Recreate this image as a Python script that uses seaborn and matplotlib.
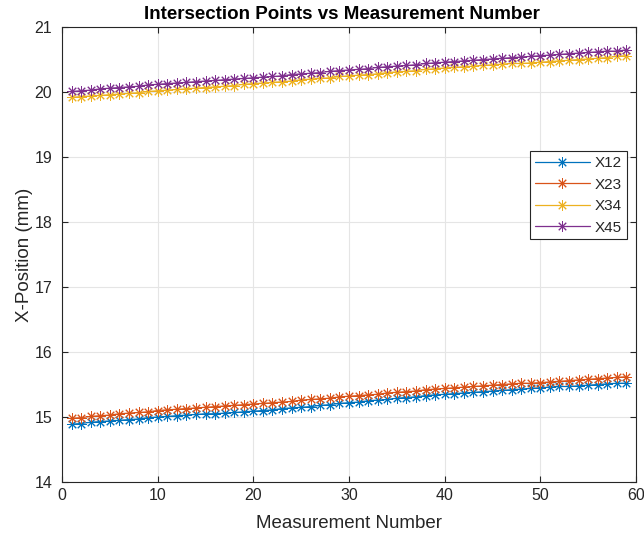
import matplotlib
matplotlib.use("Agg")
import matplotlib.pyplot as plt
import seaborn as sns
import pandas as pd

measurement = list(range(1, 60))

x12 = [14.89, 14.90, 14.92, 14.93, 14.94, 14.95, 14.96, 14.97, 14.99, 15.00,
       15.01, 15.02, 15.03, 15.04, 15.05, 15.05, 15.06, 15.07, 15.08, 15.09,
       15.10, 15.11, 15.13, 15.14, 15.15, 15.16, 15.18, 15.19, 15.21, 15.22,
       15.23, 15.25, 15.26, 15.27, 15.29, 15.30, 15.31, 15.33, 15.34, 15.35,
       15.36, 15.37, 15.38, 15.39, 15.40, 15.41, 15.42, 15.43, 15.44, 15.45,
       15.46, 15.47, 15.47, 15.48, 15.49, 15.50, 15.51, 15.52, 15.52]
x23 = [14.98, 14.99, 15.01, 15.02, 15.03, 15.05, 15.06, 15.07, 15.08, 15.10,
       15.11, 15.12, 15.13, 15.14, 15.15, 15.16, 15.17, 15.18, 15.19, 15.20,
       15.21, 15.22, 15.23, 15.24, 15.26, 15.27, 15.28, 15.29, 15.31, 15.32,
       15.33, 15.34, 15.35, 15.37, 15.38, 15.39, 15.40, 15.42, 15.43, 15.44,
       15.45, 15.46, 15.47, 15.48, 15.49, 15.50, 15.51, 15.52, 15.52, 15.53,
       15.54, 15.55, 15.56, 15.57, 15.58, 15.59, 15.60, 15.61, 15.62]
x34 = [19.92, 19.93, 19.94, 19.95, 19.96, 19.97, 19.98, 19.99, 20.01, 20.02,
       20.03, 20.04, 20.05, 20.06, 20.07, 20.08, 20.09, 20.10, 20.12, 20.13,
       20.14, 20.15, 20.16, 20.17, 20.19, 20.20, 20.21, 20.22, 20.24, 20.25,
       20.26, 20.27, 20.28, 20.30, 20.31, 20.32, 20.33, 20.35, 20.36, 20.37,
       20.38, 20.39, 20.40, 20.41, 20.42, 20.43, 20.44, 20.44, 20.45, 20.46,
       20.47, 20.48, 20.49, 20.50, 20.51, 20.52, 20.53, 20.55, 20.56]
x45 = [20.01, 20.02, 20.03, 20.05, 20.06, 20.07, 20.08, 20.09, 20.11, 20.12,
       20.13, 20.14, 20.15, 20.16, 20.17, 20.18, 20.19, 20.20, 20.21, 20.22,
       20.23, 20.24, 20.25, 20.27, 20.28, 20.29, 20.30, 20.32, 20.33, 20.34,
       20.35, 20.36, 20.38, 20.39, 20.40, 20.41, 20.42, 20.44, 20.45, 20.46,
       20.47, 20.48, 20.49, 20.50, 20.51, 20.52, 20.53, 20.54, 20.55, 20.56,
       20.57, 20.58, 20.59, 20.60, 20.61, 20.62, 20.63, 20.63, 20.65]

series_names = ["X12", "X23", "X34", "X45"]
series_values = [x12, x23, x34, x45]
colors = ["#0072BD", "#D95319", "#EDB120", "#7E2F8E"]

x_ticks = [0, 10, 20, 30, 40, 50, 60]
y_ticks = [14, 15, 16, 17, 18, 19, 20, 21]

sns.set_theme(style="white")
plt.rcParams["font.family"] = ["Liberation Sans", "DejaVu Sans"]

fig = plt.figure(figsize=(6.44, 5.42), dpi=100)
ax = fig.add_axes([0.0963, 0.1107, 0.8913, 0.8393])

asterisk = (8, 2, 0)
for name, vals, c in zip(series_names, series_values, colors):
    df = pd.DataFrame({"Measurement": measurement, "X": vals})
    sns.lineplot(data=df, x="Measurement", y="X", ax=ax, color=c,
                 marker=asterisk, markersize=7.5, markeredgewidth=0.7,
                 markeredgecolor=c, linewidth=0.9, label=name)

ax.set_xlim(0, 60)
ax.set_ylim(14, 21)
ax.set_xticks(x_ticks)
ax.set_yticks(y_ticks)
ax.grid(True, color="#e5e5e5", linewidth=0.8)
ax.set_axisbelow(True)
for s in ax.spines.values():
    s.set_color("#262626")
    s.set_linewidth(0.8)
ax.tick_params(direction="in", length=4, width=0.8, colors="#262626",
               labelsize=11.5, labelcolor="#262626", top=True, right=True,
               bottom=True, left=True, labeltop=False, labelright=False)
ax.tick_params(axis="x", pad=4)
ax.tick_params(axis="y", pad=7)
ax.set_xlabel("Measurement Number", fontsize=13.5, color="#262626", labelpad=9)
ax.set_ylabel("X-Position (mm)", fontsize=13.5, color="#262626", labelpad=1)
ax.set_title("Intersection Points vs Measurement Number", fontsize=13.5,
             fontweight="bold", color="black", pad=6, x=0.487)

leg = ax.legend(loc="upper right", bbox_to_anchor=(0.984, 0.727),
                frameon=True, fancybox=False, edgecolor="#262626",
                framealpha=1, fontsize=11, handlelength=3.6,
                borderpad=0.3, labelspacing=0.5, handletextpad=0.35,
                borderaxespad=0)
leg.get_frame().set_linewidth(0.8)

fig.savefig("out.png", dpi=100)
